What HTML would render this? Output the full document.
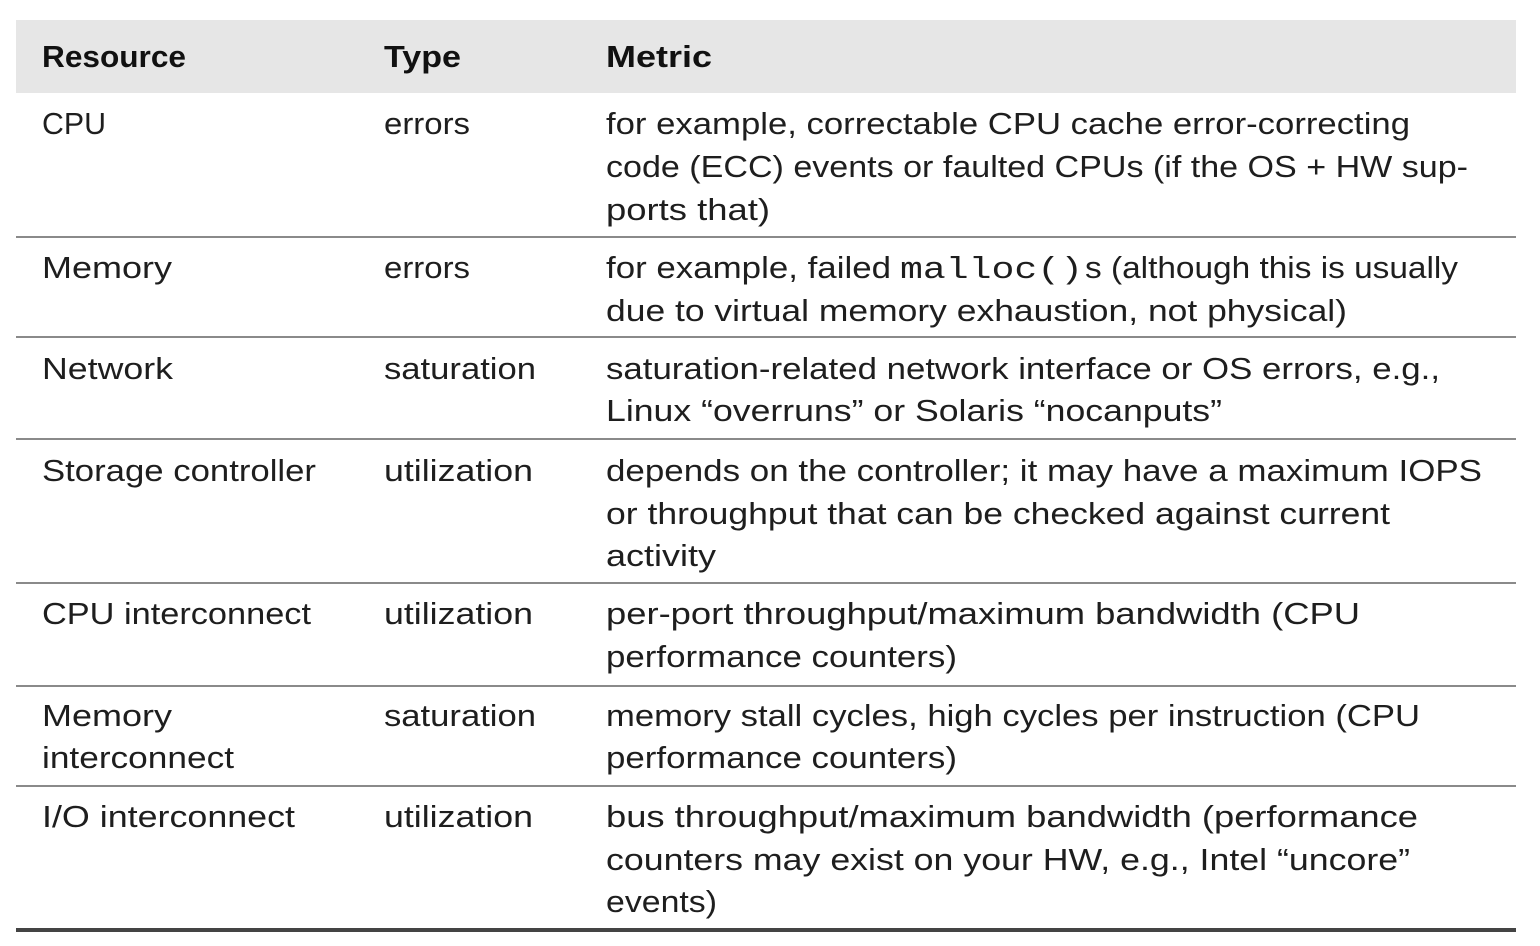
<!DOCTYPE html>
<html><head><meta charset="utf-8"><style>
html,body{margin:0;padding:0;background:#fff;width:1540px;height:946px;overflow:hidden}
svg text{font-family:"Liberation Sans",sans-serif;font-size:31px;fill:#1e1e1e}
svg text.h{font-weight:bold;fill:#111}
svg text.m{font-family:"Liberation Mono",monospace}
</style></head><body>
<svg width="1540" height="946" viewBox="0 0 1540 946" xmlns="http://www.w3.org/2000/svg">
<rect x="16" y="20" width="1500" height="73" fill="#e6e6e6"/>
<g fill="#8a8a8a">
<rect x="16" y="236" width="1500" height="2"/>
<rect x="16" y="336" width="1500" height="2"/>
<rect x="16" y="438" width="1500" height="2"/>
<rect x="16" y="582" width="1500" height="2"/>
<rect x="16" y="685" width="1500" height="2"/>
<rect x="16" y="785" width="1500" height="2"/>
</g>
<rect x="16" y="928" width="1500" height="4" fill="#444"/>

<text class="h" x="42" y="67" textLength="144" lengthAdjust="spacingAndGlyphs">Resource</text>
<text class="h" x="384" y="67" textLength="77" lengthAdjust="spacingAndGlyphs">Type</text>
<text class="h" x="606" y="67" textLength="106" lengthAdjust="spacingAndGlyphs">Metric</text>

<text x="42" y="134" textLength="64" lengthAdjust="spacingAndGlyphs">CPU</text>
<text x="384" y="134" textLength="86" lengthAdjust="spacingAndGlyphs">errors</text>
<text x="606" y="134" textLength="804" lengthAdjust="spacingAndGlyphs">for example, correctable CPU cache error-correcting</text>
<text x="606" y="177" textLength="862" lengthAdjust="spacingAndGlyphs">code (ECC) events or faulted CPUs (if the OS + HW sup-</text>
<text x="606" y="220" textLength="164" lengthAdjust="spacingAndGlyphs">ports that)</text>

<text x="42" y="278" textLength="130" lengthAdjust="spacingAndGlyphs">Memory</text>
<text x="384" y="278" textLength="86" lengthAdjust="spacingAndGlyphs">errors</text>
<text x="606" y="278" textLength="285" lengthAdjust="spacingAndGlyphs">for example, failed</text>
<text class="m" x="900" y="278" textLength="183" lengthAdjust="spacingAndGlyphs">malloc()</text>
<text x="1085" y="278" textLength="373" lengthAdjust="spacingAndGlyphs">s (although this is usually</text>
<text x="606" y="321" textLength="741" lengthAdjust="spacingAndGlyphs">due to virtual memory exhaustion, not physical)</text>

<text x="42" y="379" textLength="131" lengthAdjust="spacingAndGlyphs">Network</text>
<text x="384" y="379" textLength="152" lengthAdjust="spacingAndGlyphs">saturation</text>
<text x="606" y="379" textLength="834" lengthAdjust="spacingAndGlyphs">saturation-related network interface or OS errors, e.g.,</text>
<text x="606" y="421" textLength="616" lengthAdjust="spacingAndGlyphs">Linux “overruns” or Solaris “nocanputs”</text>

<text x="42" y="481" textLength="274" lengthAdjust="spacingAndGlyphs">Storage controller</text>
<text x="384" y="481" textLength="149" lengthAdjust="spacingAndGlyphs">utilization</text>
<text x="606" y="481" textLength="876" lengthAdjust="spacingAndGlyphs">depends on the controller; it may have a maximum IOPS</text>
<text x="606" y="524" textLength="784" lengthAdjust="spacingAndGlyphs">or throughput that can be checked against current</text>
<text x="606" y="566" textLength="110" lengthAdjust="spacingAndGlyphs">activity</text>

<text x="42" y="624" textLength="269" lengthAdjust="spacingAndGlyphs">CPU interconnect</text>
<text x="384" y="624" textLength="149" lengthAdjust="spacingAndGlyphs">utilization</text>
<text x="606" y="624" textLength="754" lengthAdjust="spacingAndGlyphs">per-port throughput/maximum bandwidth (CPU</text>
<text x="606" y="667" textLength="351" lengthAdjust="spacingAndGlyphs">performance counters)</text>

<text x="42" y="726" textLength="130" lengthAdjust="spacingAndGlyphs">Memory</text>
<text x="42" y="768" textLength="192" lengthAdjust="spacingAndGlyphs">interconnect</text>
<text x="384" y="726" textLength="152" lengthAdjust="spacingAndGlyphs">saturation</text>
<text x="606" y="726" textLength="814" lengthAdjust="spacingAndGlyphs">memory stall cycles, high cycles per instruction (CPU</text>
<text x="606" y="768" textLength="351" lengthAdjust="spacingAndGlyphs">performance counters)</text>

<text x="42" y="827" textLength="253" lengthAdjust="spacingAndGlyphs">I/O interconnect</text>
<text x="384" y="827" textLength="149" lengthAdjust="spacingAndGlyphs">utilization</text>
<text x="606" y="827" textLength="812" lengthAdjust="spacingAndGlyphs">bus throughput/maximum bandwidth (performance</text>
<text x="606" y="870" textLength="804" lengthAdjust="spacingAndGlyphs">counters may exist on your HW, e.g., Intel “uncore”</text>
<text x="606" y="912" textLength="111" lengthAdjust="spacingAndGlyphs">events)</text>
</svg>
</body></html>
